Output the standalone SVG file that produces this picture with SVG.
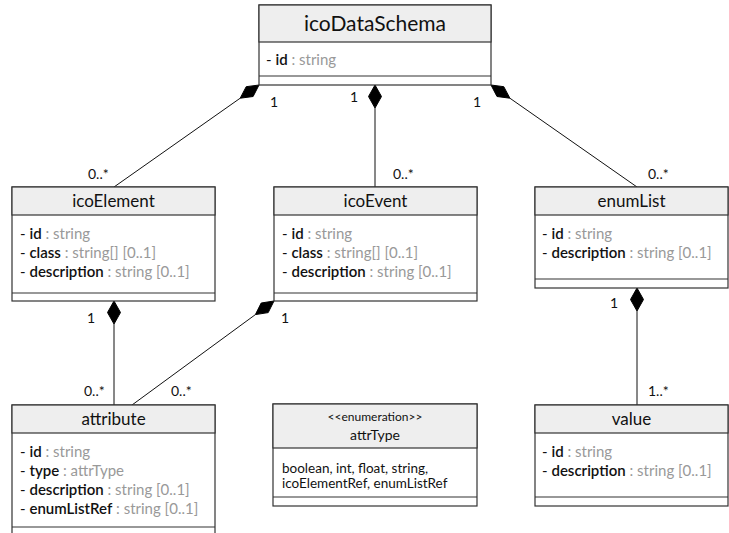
<svg xmlns="http://www.w3.org/2000/svg" width="729" height="533" viewBox="0 0 729 533">
<style>
.box{fill:#fff;stroke:#333;stroke-width:1.2}
.hdr{fill:#eeeeee;stroke:#333;stroke-width:1.2}
.sep{stroke:#333;stroke-width:1.2}
.t{font-family:Lato,"Open Sans","Liberation Sans",sans-serif;fill:#111}
.title{font-size:17px;text-anchor:middle}
.big{font-size:21px}
.at{font-size:15px}
.n{font-weight:600}
.ty{fill:#999}
.lbl{font-family:Lato,"Open Sans","Liberation Sans",sans-serif;font-size:14px;fill:#111}
.ln{stroke:#111;stroke-width:1;fill:none}
.dia{fill:#000;stroke:#000;stroke-width:1}
</style>
<g id="connectors">
<polygon class="dia" points="259,85 253.1,96.5 240.2,98.2 246.2,86.7"/>
<line class="ln" x1="240.2" y1="98.2" x2="114" y2="187"/>
<polygon class="dia" points="375,85 381.5,96.5 375,108 368.5,96.5"/>
<line class="ln" x1="375" y1="108" x2="375" y2="187"/>
<polygon class="dia" points="491,85 503.8,86.7 509.9,98.2 497,96.5"/>
<line class="ln" x1="509.9" y1="98.2" x2="637" y2="187"/>
<polygon class="dia" points="114,301 120.5,312.5 114,324 107.5,312.5"/>
<line class="ln" x1="114" y1="324" x2="114" y2="405"/>
<polygon class="dia" points="274,301 268.2,312.6 255.4,314.6 261.2,303"/>
<line class="ln" x1="255.4" y1="314.6" x2="132" y2="405"/>
<polygon class="dia" points="637,288 643.5,299.5 637,311 630.5,299.5"/>
<line class="ln" x1="637" y1="311" x2="637" y2="405"/>
<text class="lbl" x="270" y="107">1</text>
<text class="lbl" x="350" y="102">1</text>
<text class="lbl" x="473" y="107">1</text>
<text class="lbl" x="88" y="179">0..*</text>
<text class="lbl" x="393" y="179">0..*</text>
<text class="lbl" x="648" y="179">0..*</text>
<text class="lbl" x="87" y="323">1</text>
<text class="lbl" x="281" y="323">1</text>
<text class="lbl" x="610" y="308">1</text>
<text class="lbl" x="84" y="396">0..*</text>
<text class="lbl" x="171" y="396">0..*</text>
<text class="lbl" x="648" y="396">1..*</text>
</g>
<g id="icoDataSchema">
<rect class="box" x="259" y="5" width="232" height="80"/>
<rect class="hdr" x="259" y="5" width="232" height="37"/>
<line class="sep" x1="259" y1="76" x2="491" y2="76"/>
<text class="t title big" x="375" y="31">icoDataSchema</text>
<text class="t at" x="266" y="65">- <tspan class="n">id</tspan><tspan class="ty"> : string</tspan></text>
</g>
<g id="icoElement">
<rect class="box" x="12" y="187" width="203" height="114"/>
<rect class="hdr" x="12" y="187" width="203" height="28"/>
<line class="sep" x1="12" y1="293" x2="215" y2="293"/>
<text class="t title" x="113.5" y="207">icoElement</text>
<text class="t at" x="20" y="239">- <tspan class="n">id</tspan><tspan class="ty"> : string</tspan></text>
<text class="t at" x="20" y="258">- <tspan class="n">class</tspan><tspan class="ty"> : string[] [0..1]</tspan></text>
<text class="t at" x="20" y="277">- <tspan class="n">description</tspan><tspan class="ty"> : string [0..1]</tspan></text>
</g>
<g id="icoEvent">
<rect class="box" x="274" y="187" width="203" height="114"/>
<rect class="hdr" x="274" y="187" width="203" height="28"/>
<line class="sep" x1="274" y1="293" x2="477" y2="293"/>
<text class="t title" x="375.5" y="207">icoEvent</text>
<text class="t at" x="282" y="239">- <tspan class="n">id</tspan><tspan class="ty"> : string</tspan></text>
<text class="t at" x="282" y="258">- <tspan class="n">class</tspan><tspan class="ty"> : string[] [0..1]</tspan></text>
<text class="t at" x="282" y="277">- <tspan class="n">description</tspan><tspan class="ty"> : string [0..1]</tspan></text>
</g>
<g id="enumList">
<rect class="box" x="535" y="187" width="193" height="101"/>
<rect class="hdr" x="535" y="187" width="193" height="28"/>
<line class="sep" x1="535" y1="279" x2="728" y2="279"/>
<text class="t title" x="631.5" y="207">enumList</text>
<text class="t at" x="542" y="239">- <tspan class="n">id</tspan><tspan class="ty"> : string</tspan></text>
<text class="t at" x="542" y="258">- <tspan class="n">description</tspan><tspan class="ty"> : string [0..1]</tspan></text>
</g>
<g id="attribute">
<rect class="box" x="12" y="405" width="203" height="140"/>
<rect class="hdr" x="12" y="405" width="203" height="28"/>
<line class="sep" x1="12" y1="527" x2="215" y2="527"/>
<text class="t title" x="113.5" y="425">attribute</text>
<text class="t at" x="20" y="457">- <tspan class="n">id</tspan><tspan class="ty"> : string</tspan></text>
<text class="t at" x="20" y="476">- <tspan class="n">type</tspan><tspan class="ty"> : attrType</tspan></text>
<text class="t at" x="20" y="495">- <tspan class="n">description</tspan><tspan class="ty"> : string [0..1]</tspan></text>
<text class="t at" x="20" y="514">- <tspan class="n">enumListRef</tspan><tspan class="ty"> : string [0..1]</tspan></text>
</g>
<g id="attrType">
<rect class="box" x="273" y="404" width="204" height="102"/>
<rect class="hdr" x="273" y="404" width="204" height="44"/>
<line class="sep" x1="273" y1="497" x2="477" y2="497"/>
<text class="t" x="375" y="421" font-size="12" text-anchor="middle">&lt;&lt;enumeration&gt;&gt;</text>
<text class="t" x="375" y="440" font-size="14" text-anchor="middle">attrType</text>
<text class="t" x="282" y="473" font-size="13.5">boolean, int, float, string,</text>
<text class="t" x="282" y="488" font-size="13.5">icoElementRef, enumListRef</text>
</g>
<g id="value">
<rect class="box" x="535" y="405" width="193" height="101"/>
<rect class="hdr" x="535" y="405" width="193" height="28"/>
<line class="sep" x1="535" y1="497" x2="728" y2="497"/>
<text class="t title" x="631.5" y="425">value</text>
<text class="t at" x="542" y="457">- <tspan class="n">id</tspan><tspan class="ty"> : string</tspan></text>
<text class="t at" x="542" y="476">- <tspan class="n">description</tspan><tspan class="ty"> : string [0..1]</tspan></text>
</g>
</svg>
